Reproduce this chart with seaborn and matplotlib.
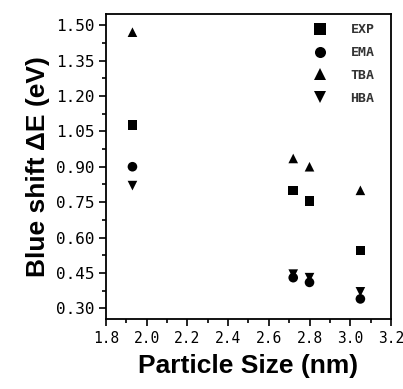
import matplotlib
matplotlib.use("Agg")
import matplotlib.pyplot as plt
from matplotlib.ticker import MultipleLocator
import pandas as pd
import seaborn as sns

# particle sizes (nm) and blue shift values (eV)
size = [1.93, 2.72, 2.80, 3.05]
exp_shift = [1.076, 0.80, 0.755, 0.545]
ema_shift = [0.90, 0.43, 0.41, 0.34]
tba_shift = [1.47, 0.935, 0.90, 0.80]
hba_shift = [0.82, 0.445, 0.43, 0.37]
labels = ["EXP", "EMA", "TBA", "HBA"]
markers = ["s", "o", "^", "v"]

df = pd.DataFrame({
    "size": size * 4,
    "shift": exp_shift + ema_shift + tba_shift + hba_shift,
    "model": [l for l in labels for _ in size],
})

sns.set_style("ticks")
plt.rcParams["font.family"] = ["Liberation Sans", "DejaVu Sans"]
plt.rcParams["text.color"] = "black"
plt.rcParams["axes.labelcolor"] = "black"

fig, ax = plt.subplots(figsize=(4.03, 3.89), dpi=100)
fig.subplots_adjust(left=0.263, right=0.970, top=0.964, bottom=0.180)

sns.scatterplot(data=df, x="size", y="shift", hue="model", style="model",
                palette=["black"] * 4, markers=dict(zip(labels, markers)),
                s=48, edgecolor="black", linewidth=0, ax=ax)

ax.set_xlim(1.8, 3.2)
ax.set_ylim(0.255, 1.547)
ax.xaxis.set_major_locator(MultipleLocator(0.2))
ax.xaxis.set_minor_locator(MultipleLocator(0.1))
ax.yaxis.set_major_locator(MultipleLocator(0.15))
ax.yaxis.set_minor_locator(MultipleLocator(0.075))
ax.set_xticks(ax.get_xticks())
ax.set_xticklabels([f"{v:.1f}" for v in ax.get_xticks()], family="DejaVu Sans Mono", fontsize=10.5)
ax.set_yticks(ax.get_yticks())
ax.set_yticklabels([f"{v:.2f}" for v in ax.get_yticks()], family="DejaVu Sans Mono", fontsize=11.5)
ax.set_xlim(1.8, 3.2)
ax.set_ylim(0.255, 1.547)
ax.tick_params(axis="both", which="major", direction="out", length=5, width=1.2,
               pad=3.5, color="black", labelcolor="black")
ax.tick_params(axis="both", which="minor", direction="out", length=3, width=1.2, color="black")
for sp in ax.spines.values():
    sp.set_linewidth(1.3)
    sp.set_color("black")

ax.set_xlabel("Particle Size (nm)", fontsize=19, fontweight="bold", labelpad=6)
ax.set_ylabel("Blue shift \u0394E (eV)", fontsize=19, fontweight="bold", labelpad=4)

leg = ax.legend(title=None, loc="upper right", frameon=False,
                prop={"family": "DejaVu Sans Mono", "weight": "bold", "size": 9.5},
                handletextpad=1.3, labelspacing=0.75, markerscale=1.15,
                bbox_to_anchor=(0.975, 1.0), borderpad=0.2)
for t in leg.get_texts():
    t.set_color("#333333")

plt.savefig("out.png", dpi=100)
